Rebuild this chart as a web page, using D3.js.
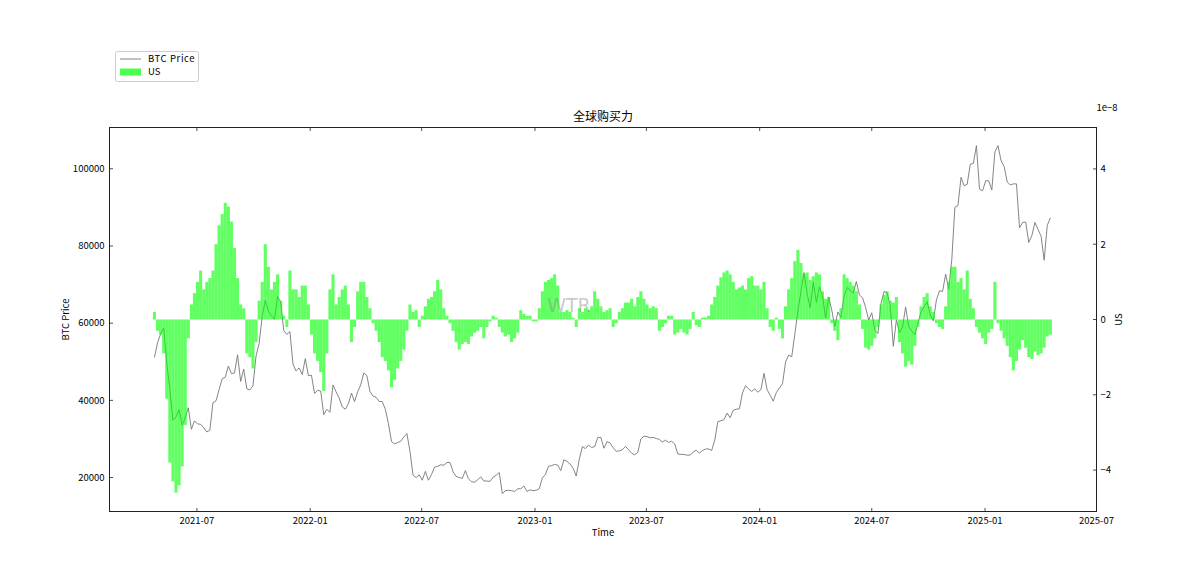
<!DOCTYPE html>
<html>
<head>
<meta charset="utf-8">
<script src="https://cdn.jsdelivr.net/npm/d3@7"></script>
<style>
  html, body { margin: 0; padding: 0; background: #fff; }
  svg { display: block; }
</style>
</head>
<body>
<svg id="chart" width="1186" height="576"></svg>
<script>
// ---------------- DATA ----------------
const startDate = "2021-04-23";   // first sample
const stepDays = 5;               // sampling interval (days)

// BTC close price (USD), one value per 5-day step
const btcPrice = [
  51100, 54900, 57200, 58800, 49700, 42900, 34800, 35700, 37600, 33600,
  35500, 38100, 32500, 34700, 33900, 33800, 32900, 31800, 32300, 39400,
  39900, 42800, 45600, 46000, 48900, 46900, 47100, 51800, 44900, 48100,
  43000, 42700, 43800, 51500, 54700, 61700, 65900, 63100, 61900, 61000,
  66900, 65500, 58100, 57100, 57800, 49400, 47600, 48400, 46700, 50800,
  46400, 46500, 41800, 42600, 42400, 36300, 37700, 36900, 44000, 42200,
  40600, 38300, 37700, 39100, 41900, 39700, 42200, 44000, 47100, 46400,
  42300, 41100, 40800, 39700, 39700, 37700, 34000, 29300, 28700, 29100,
  29400, 30500, 31400, 26800, 20600, 20000, 20700, 19300, 21600, 19300,
  20800, 22700, 22900, 23300, 23200, 23900, 23900, 21500, 20300, 20000,
  19800, 21800, 19700, 18900, 18800, 19400, 20200, 19100, 19100, 19000,
  20100, 20600, 21300, 15800, 16600, 16700, 16600, 16400, 17100, 17100,
  17800, 16400, 16800, 16600, 16700, 17100, 19900, 20800, 22900, 23100,
  23400, 23200, 21800, 24600, 24200, 23500, 22400, 20400, 24700, 28000,
  27500, 28400, 27800, 28000, 30400, 30400, 27600, 29300, 29000, 27700,
  26800, 26900, 27200, 28100, 27200, 26300, 25900, 26500, 30000, 30700,
  30600, 30300, 30400, 30100, 29900, 29200, 29700, 29100, 29400, 28700,
  26100, 26000, 26000, 25800, 25800, 26600, 27100, 26300, 27000, 27400,
  27400, 27000, 29700, 34500, 34700, 35000, 36700, 35500, 37400, 37700,
  37800, 41900, 43800, 43000, 42300, 43000, 42100, 42800, 47000, 42800,
  41300, 39800, 42000, 43200, 44300, 49900, 51700, 51300, 57100, 63100,
  68300, 73100, 67600, 64000, 70700, 65400, 69400, 67100, 61300, 66800,
  63400, 59100, 62900, 61500, 67000, 69200, 68500, 67800, 70800, 67300,
  66600, 64100, 60800, 62700, 58200, 57300, 65100, 68200, 67900, 64600,
  54000, 60900, 57500, 59000, 64200, 59100, 58000, 57000, 60000, 62900,
  64300, 65600, 62100, 60600, 66000, 68400, 68200, 72700, 68800, 76500,
  90000, 90500, 97800, 95600, 96000, 101200, 101400, 106000, 94700, 94300,
  96900, 96900, 94500, 104400, 106000, 102100, 100600, 96600, 95800, 96100,
  96100, 84700, 86100, 86200, 80900, 82700, 86100, 84300, 82500, 76300,
  85300, 87300
];

// US purchasing power (units of 1e-8), one value per 5-day step
const usPower = [
  0.2, -0.3, -0.4, -0.9, -2.1, -3.8, -4.3, -4.6, -4.4, -3.9,
  -2.8, -0.5, 0.4, 0.7, 1.0, 1.3, 0.8, 1.0, 1.1, 1.3,
  2.0, 2.5, 2.8, 3.1, 3.0, 2.6, 1.9, 1.1, 0.4, 0.3,
  -0.9, -1.0, -1.3, -0.6, 0.5, 1.0, 2.0, 1.4, 0.8, 1.0,
  1.2, 0.5, 0.1, -0.2, 1.3, 0.8, 0.8, 0.6, 0.9, 0.9,
  0.4, -0.4, -0.9, -1.1, -1.4, -1.9, -0.9, 0.8, 1.2, 0.4,
  0.6, 0.8, 0.9, 0.4, -0.6, -0.2, 0.75, 1.0, 1.0, 0.6,
  0.3, -0.1, -0.3, -0.6, -1.0, -1.1, -1.35, -1.8, -1.6, -1.3,
  -1.1, -0.8, -0.3, 0.4, 0.2, 0.25, -0.2, 0.1, 0.35, 0.55,
  0.6, 0.75, 1.05, 0.8, 0.3, 0.1, -0.1, -0.3, -0.6, -0.8,
  -0.65, -0.6, -0.65, -0.45, -0.35, -0.3, -0.2, -0.5, -0.2, -0.05,
  0.1, 0.05, -0.2, -0.35, -0.45, -0.4, -0.6, -0.5, -0.35, 0.25,
  0.15, 0.1, 0.1, -0.05, -0.05, 0.3, 0.75, 1.0, 1.05, 1.1,
  1.2, 0.9, 0.2, 0.2, 0.25, 0.2, 0.05, -0.2, 0.3, 0.2,
  0.3, 0.25, 0.35, 0.75, 0.55, 0.35, 0.2, 0.25, 0.3, -0.2,
  -0.1, 0.2, 0.3, 0.45, 0.45, 0.55, 0.35, 0.6, 0.75, 0.55,
  0.4, 0.3, 0.35, 0.3, -0.3, -0.2, -0.1, 0.1, 0.1, -0.4,
  -0.35, -0.25, -0.35, -0.4, -0.25, 0.2, -0.15, -0.2, 0.05, 0.05,
  0.1, 0.4, 0.6, 0.9, 1.12, 1.25, 1.3, 1.2, 1.0, 0.8,
  0.85, 0.9, 0.8, 1.1, 1.15, 0.9, 0.9, 0.8, 1.0, 0.3,
  -0.2, -0.3, 0.05, -0.25, -0.5, 0.35, 0.8, 1.1, 1.55, 1.85,
  1.5, 1.2, 1.25, 1.05, 1.15, 1.25, 1.2, 0.75, 0.55, 0.6,
  -0.1, -0.3, -0.55, 0.3, 1.2, 1.1, 1.0, 0.9, 0.75, 0.4,
  -0.25, -0.75, -0.8, -0.7, -0.5, -0.2, 0.4, 0.65, 0.75, 0.5,
  0.45, 0.6, -0.6, -0.9, -1.25, -1.1, -1.2, -0.7, -0.2, 0.35,
  0.6, 0.7, 0.35, 0.2, -0.1, -0.2, -0.25, 0.35, 1.0, 1.4,
  1.4, 1.0, 1.1, 0.8, 1.3, 0.55, 0.3, -0.2, -0.35, -0.5,
  -0.65, -0.35, -0.25, 1.0, -0.1, -0.3, -0.5, -0.7, -1.0, -1.35,
  -1.1, -0.8, -0.55, -0.75, -1.0, -1.05, -0.85, -0.95, -0.9, -0.75,
  -0.45, -0.4
];

const xTickLabels = ["2021-07", "2022-01", "2022-07", "2023-01", "2023-07", "2024-01", "2024-07", "2025-01", "2025-07"];
const leftTicks = [20000, 40000, 60000, 80000, 100000];
const rightTicks = [-4, -2, 0, 2, 4];
const xLimits = ["2021-02-09", "2025-07-01"];
const leftLimits = [11200, 110700];
const rightLimits = [-5.1, 5.1];

// ---------------- LAYOUT ----------------
const W = 1186, H = 576;
const plot = { left: 109.5, right: 1096.5, top: 127.5, bottom: 511.5 };
const FONT = "'Noto Sans CJK SC', 'DejaVu Sans', sans-serif";
const axisColor = "#222";
const tickFont = 9.5;

const parse = d3.utcParse("%Y-%m-%d");
const parseM = d3.utcParse("%Y-%m");
const t0 = parse(startDate);
const dates = btcPrice.map((_, i) => d3.utcDay.offset(t0, i * stepDays));

const x = d3.scaleUtc().domain(xLimits.map(parse)).range([plot.left, plot.right]);
const yL = d3.scaleLinear().domain(leftLimits).range([plot.bottom, plot.top]);
const yR = d3.scaleLinear().domain(rightLimits).range([plot.bottom, plot.top]);

const svg = d3.select("#chart");
svg.append("rect").attr("width", W).attr("height", H).attr("fill", "#fff");

svg.append("defs").append("clipPath").attr("id", "clip")
  .append("rect").attr("x", plot.left).attr("y", plot.top)
  .attr("width", plot.right - plot.left).attr("height", plot.bottom - plot.top);

const g = svg.append("g").attr("clip-path", "url(#clip)");

// price line
const line = d3.line().x((d, i) => x(dates[i])).y(d => yL(d));
g.append("path").datum(btcPrice)
  .attr("d", line).attr("fill", "none")
  .attr("stroke", "#777").attr("stroke-width", 0.9)
  .attr("stroke-linejoin", "round");

// bars
const halfStep = stepDays / 2;
g.selectAll("rect.bar").data(usPower).enter().append("rect")
  .attr("class", "bar")
  .attr("x", (d, i) => x(d3.utcHour.offset(dates[i], -halfStep * 24)))
  .attr("width", (d, i) => x(d3.utcHour.offset(dates[i], halfStep * 24)) - x(d3.utcHour.offset(dates[i], -halfStep * 24)))
  .attr("y", d => Math.min(yR(d), yR(0)))
  .attr("height", d => Math.abs(yR(d) - yR(0)))
  .attr("fill", "#00ff00").attr("fill-opacity", 0.62);

// watermark
svg.append("text").attr("x", 569).attr("y", 312)
  .attr("text-anchor", "middle").attr("font-family", "'DejaVu Sans', sans-serif")
  .attr("font-size", 19).attr("fill", "#888").attr("fill-opacity", 0.45)
  .text("WTR");

// frame
svg.append("rect").attr("x", plot.left).attr("y", plot.top)
  .attr("width", plot.right - plot.left).attr("height", plot.bottom - plot.top)
  .attr("fill", "none").attr("stroke", axisColor).attr("stroke-width", 1);

const tickLen = 3.5;
// x ticks (bottom + top, inward)
const xt = svg.append("g");
xTickLabels.forEach(lbl => {
  const px = x(parseM(lbl));
  xt.append("line").attr("x1", px).attr("x2", px).attr("y1", plot.bottom).attr("y2", plot.bottom - tickLen)
    .attr("stroke", axisColor).attr("stroke-width", 0.8);
  xt.append("line").attr("x1", px).attr("x2", px).attr("y1", plot.top).attr("y2", plot.top + tickLen)
    .attr("stroke", axisColor).attr("stroke-width", 0.8);
  xt.append("text").attr("x", px).attr("y", plot.bottom + 12)
    .attr("text-anchor", "middle").attr("font-family", FONT).attr("font-size", tickFont)
    .attr("fill", "#000").text(lbl);
});

// left ticks
leftTicks.forEach(v => {
  const py = yL(v);
  svg.append("line").attr("x1", plot.left).attr("x2", plot.left + tickLen).attr("y1", py).attr("y2", py)
    .attr("stroke", axisColor).attr("stroke-width", 0.8);
  svg.append("text").attr("x", plot.left - 5).attr("y", py).attr("dy", "0.35em")
    .attr("text-anchor", "end").attr("font-family", FONT).attr("font-size", tickFont)
    .attr("fill", "#000").text(String(v));
});

// right ticks
rightTicks.forEach(v => {
  const py = yR(v);
  svg.append("line").attr("x1", plot.right).attr("x2", plot.right - tickLen).attr("y1", py).attr("y2", py)
    .attr("stroke", axisColor).attr("stroke-width", 0.8);
  svg.append("text").attr("x", plot.right + 4).attr("y", py).attr("dy", "0.35em")
    .attr("text-anchor", "start").attr("font-family", FONT).attr("font-size", tickFont)
    .attr("fill", "#000").text(v < 0 ? "\u2212" + Math.abs(v) : String(v));
});

// offset text
svg.append("text").attr("x", plot.right).attr("y", 111)
  .attr("font-family", FONT).attr("font-size", tickFont).attr("fill", "#000").text("1e\u22128");

// titles / labels
svg.append("text").attr("x", (plot.left + plot.right) / 2).attr("y", 121)
  .attr("text-anchor", "middle").attr("font-family", FONT).attr("font-size", 12)
  .attr("fill", "#000").text("全球购买力");
svg.append("text").attr("x", (plot.left + plot.right) / 2).attr("y", 536)
  .attr("text-anchor", "middle").attr("font-family", FONT).attr("font-size", tickFont)
  .attr("fill", "#000").text("Time");
svg.append("text").attr("transform", `translate(69,${(plot.top + plot.bottom) / 2}) rotate(-90)`)
  .attr("text-anchor", "middle").attr("font-family", FONT).attr("font-size", tickFont)
  .attr("fill", "#000").text("BTC Price");
svg.append("text").attr("transform", `translate(1122,${(plot.top + plot.bottom) / 2}) rotate(-90)`)
  .attr("text-anchor", "middle").attr("font-family", FONT).attr("font-size", tickFont)
  .attr("fill", "#000").text("US");

// legend
const lg = svg.append("g");
lg.append("rect").attr("x", 115.5).attr("y", 51.5).attr("width", 83).attr("height", 30)
  .attr("rx", 2).attr("fill", "#fff").attr("stroke", "#cccccc").attr("stroke-width", 1);
lg.append("line").attr("x1", 120).attr("x2", 141).attr("y1", 59).attr("y2", 59)
  .attr("stroke", "#777").attr("stroke-width", 0.9);
lg.append("text").attr("x", 148).attr("y", 59).attr("dy", "0.35em")
  .attr("font-family", FONT).attr("font-size", tickFont).attr("letter-spacing", 0.6)
  .attr("fill", "#000").text("BTC Price");
lg.append("rect").attr("x", 120).attr("y", 68.5).attr("width", 21).attr("height", 7)
  .attr("fill", "#00ff00").attr("fill-opacity", 0.7);
lg.append("text").attr("x", 148).attr("y", 72).attr("dy", "0.35em")
  .attr("font-family", FONT).attr("font-size", tickFont).attr("fill", "#000").text("US");
</script>
</body>
</html>
